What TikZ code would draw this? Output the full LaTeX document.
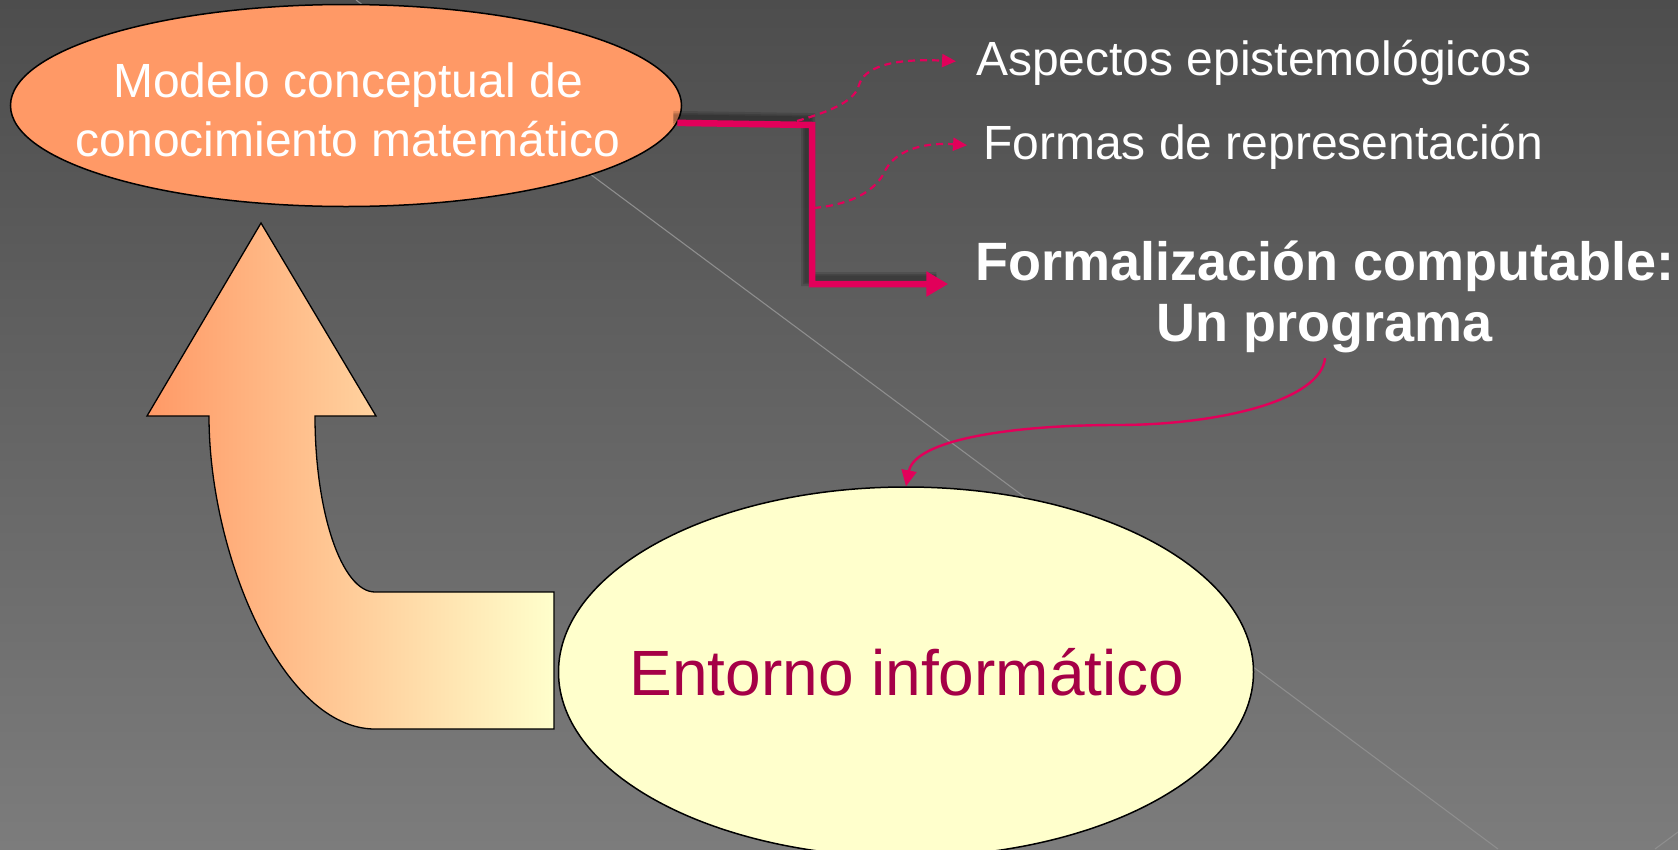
\documentclass[tikz,border=0pt]{standalone}
\usepackage{fontspec}
\setmainfont{Liberation Sans}
\usetikzlibrary{shapes.geometric,arrows.meta}
\definecolor{bgtop}{HTML}{4D4D4D}
\definecolor{bgbot}{HTML}{7C7C7C}
\definecolor{diag}{HTML}{8E8E8E}
\definecolor{orangeA}{HTML}{FF9966}
\definecolor{yellowA}{HTML}{FFFFCC}
\definecolor{crimsonT}{HTML}{A50046}
\definecolor{conn}{HTML}{E2005A}
\begin{document}
\begin{tikzpicture}[x=1pt,y=-1pt,
  diagline/.style={draw=diag,line width=1.1pt},
  bubble/.style={ellipse,draw=black,line width=1.5pt,inner sep=0pt},
  whitetext/.style={text=white,font=\fontsize{48}{59.5}\selectfont,inner sep=0pt},
  thickconn/.style={draw=conn,line width=6.5pt,-{Triangle[length=22pt,width=24pt]}},
  connshadow/.style={draw=black,opacity=0.13,transform canvas={shift={(-4pt,5pt)}}},
  dashconn/.style={draw=conn,line width=2.2pt,dash pattern=on 7pt off 5pt,-{Triangle[length=14pt,width=13pt]}},
  curveconn/.style={draw=conn,line width=2.4pt,-{Triangle[length=16pt,width=15pt]}}
]
\useasboundingbox (0,0) rectangle (1678,849);
\fill[top color=bgtop,bottom color=bgbot] (0,0) rectangle (1678,849);
\draw[diagline] (356,0) -- (1498,849);
\draw[diagline] (1655,849) -- (1678,832);

% bent up arrow
\draw[black,line width=1.3pt,left color=orangeA,right color=yellowA]
  (261,223) -- (376,416) -- (315,416)
  .. controls (315,513) and (342,592) .. (375,592)
  -- (554,592) -- (554,729) -- (375,729)
  .. controls (283,729) and (209,556) .. (209,416)
  -- (147,416) -- cycle;

% ellipses
\node[bubble,fill=orangeA,minimum width=671pt,minimum height=202pt] (model) at (346,105.5) {};
\node[bubble,fill=yellowA,minimum width=695pt,minimum height=370pt] (entorno) at (906,672) {};

% texts
\node[whitetext,align=center] (modeltext) at (348,110) {Modelo conceptual de\\conocimiento matemático};
\node[text=crimsonT,font=\fontsize{64}{70}\selectfont,inner sep=0pt,anchor=base] (entornotext) at (907,695) {Entorno informático};
\node[whitetext,anchor=base west] (aspect) at (976,75) {Aspectos epistemológicos};
\node[whitetext,anchor=base west] (formas) at (983,159) {Formas de representación};
\node[text=white,font=\fontsize{54}{61.5}\selectfont\bfseries,align=center,anchor=base,inner sep=5pt] (formal) at (1325,341.5) {Formalización computable:\\Un programa};

% thick connector with soft shadow
\coordinate (j1) at (812,125);
\coordinate (j2) at (812,284);
\foreach \w in {14,10,7}{
  \draw[connshadow,line width=\w pt] (model.-3.2) -- (j1) -- (j2) -- ([xshift=-30pt]j2 -| formal.west);
}
\draw[thickconn,shorten >=22pt] (model.-3.2) -- (j1) -- (j2) -- (j2 -| formal.west);

% dashed connectors
\coordinate (d1) at (797,121);
\coordinate (d2) at (814,208);
\draw[dashconn,shorten >=20pt] (d1) .. controls (835,110) and (855,100) .. (859,85)
  .. controls (864,68) and (890,58) .. (aspect.west);
\draw[dashconn,shorten >=16pt] (d2) .. controls (845,205) and (872,195) .. (884,173)
  .. controls (893,152) and (920,142) .. (formas.west);

% curved connector
\draw[curveconn] (formal.south) .. controls (1321,400) and (1220,425) .. (1117,425)
  .. controls (1010,425) and (915,440) .. (entorno.north);
\end{tikzpicture}
\end{document}
